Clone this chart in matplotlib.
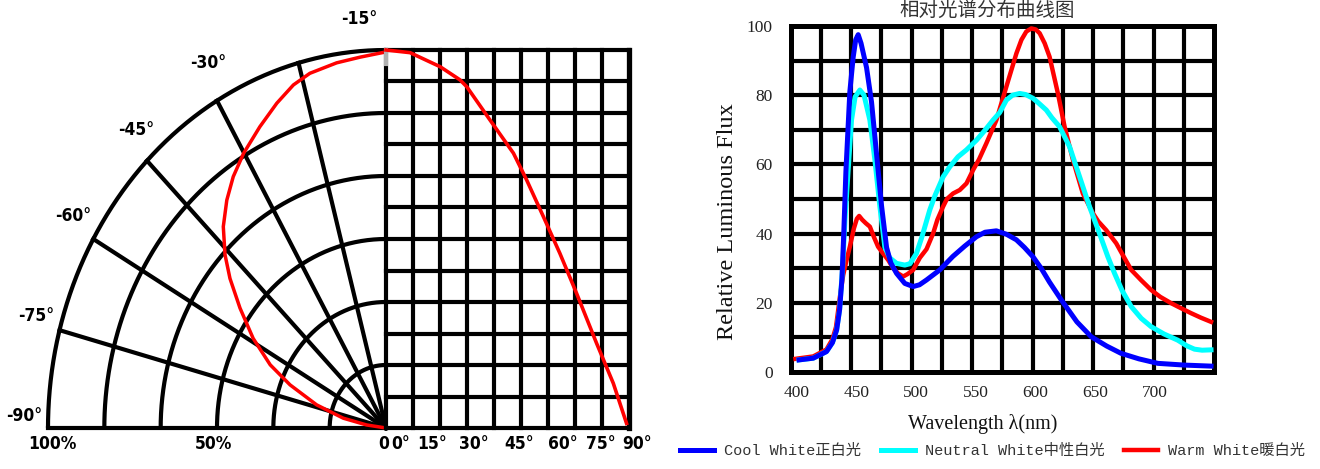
import numpy as np
import matplotlib
matplotlib.use('Agg')
import matplotlib.pyplot as plt
from matplotlib import font_manager as fm
from matplotlib.font_manager import FontProperties

# ---------------- data ----------------
# left: polar light distribution (angle from axis in degrees, relative intensity)
polar_angles = [0, 4.5, 8.6, 13.5, 16.8, 20.6, 25.1, 30.1, 34.2, 38, 42.1, 46.1, 49.4,
                53.7, 58.9, 64, 68.1, 73.4, 78.4, 82, 90]
polar_intensity = [0.995, 0.984, 0.977, 0.965, 0.948, 0.918, 0.880, 0.840, 0.804, 0.765,
                   0.718, 0.661, 0.608, 0.536, 0.459, 0.381, 0.306, 0.214, 0.129, 0.058, 0.0]

# left: rectangular light distribution
rect_angles = [0, 8.9, 20, 27.4, 29.9, 38.5, 47.2, 52.1, 58.3, 64.4, 70.6, 78, 84.2, 89.1]
rect_intensity = [1.0, 0.993, 0.956, 0.921, 0.903, 0.815, 0.727, 0.656, 0.559,
                  0.462, 0.356, 0.224, 0.118, 0.012]

polar_angle_labels = ['-15°', '-30°', '-45°', '-60°', '-75°', '-90°']
polar_radius_labels = ['100%', '50%', '0']
rect_angle_labels = ['0°', '15°', '30°', '45°', '60°', '75°', '90°']

# right: relative spectral distribution
cool_wl = [402, 413.9, 425, 430, 433.5, 436, 438, 439.5, 441.3, 444.6, 447.4, 449.5, 451.6,
           454, 458.6, 462.8, 467, 471.2, 475.4, 479, 483.8, 490.7, 497.7, 503, 508.9,
           520, 531, 541, 550.8, 558, 567.5, 576, 584.3, 591, 598.2, 605, 612, 622, 635,
           647, 660, 672, 687, 702.9, 725, 747.5]
cool_val = [3.5, 4.0, 5.9, 8.5, 12.1, 18, 27, 40, 58, 81, 91, 96, 97.5,
            95, 88, 78, 63, 48, 36, 31.5, 28.5, 25.6, 24.7, 25.2, 26.6,
            29.5, 33.4, 36.4, 39.1, 40.4, 40.8, 39.8, 38.2, 36, 33.3, 30, 26, 20.8, 14.5,
            10.2, 7.5, 5.4, 3.8, 2.5, 2.0, 1.7]

neutral_wl = [402, 413.9, 425, 430, 433.5, 436, 438.5, 440.5, 443.2, 446, 449, 453,
              456.5, 461.4, 465.6, 469.8, 474, 478, 483.8, 490.7, 495, 500.5, 505, 511.6,
              516, 522.8, 528.4, 535.3, 542.4, 550.8, 557, 564.7, 570.3, 575.9, 581, 587,
              592, 598.2, 603, 609.4, 614, 620.5, 628.9, 637.3, 645.6, 654, 661, 666.6,
              673, 680.6, 689, 697.3, 708, 719.6, 727, 733.6, 740, 747.5]
neutral_val = [3.5, 4.0, 5.9, 8.5, 12.1, 18, 30, 43.9, 58.4, 72.8, 79.5, 81.5,
               80, 72.8, 61.3, 47.8, 36, 33, 31.4, 30.9, 31.3, 34.3, 39, 46.8,
               51, 56.4, 59.3, 62.2, 64.2, 67, 69.5, 72.8, 75, 78.6, 80, 80.5,
               80.2, 79.1, 77.7, 75.7, 73.5, 70.9, 65.1, 56.4, 47.8, 40, 33.3, 28.5,
               23.5, 18.9, 15.5, 13.1, 11, 9.2, 7.6, 6.6, 6.3, 6.4]

warm_wl = [399, 413.9, 425, 430, 433, 436.3, 439, 441.9, 444.6, 448, 450.5, 452.4, 455,
           458, 461.4, 464.8, 468.3, 472, 476.7, 481, 485, 489.3, 493, 497.7, 503.3,
           508.9, 514.4, 518, 522.8, 526, 531.2, 536.8, 542.4, 548, 553, 559.1, 567.5,
           575.9, 584.3, 588.5, 592.6, 596.8, 600.5, 603.8, 608, 612.1, 619.1, 624.7,
           631.7, 640, 648.4, 653, 659.6, 668, 674, 680.6, 689, 697.3, 705, 714, 722,
           730.8, 739, 747.5]
warm_val = [3.8, 4.5, 6.5, 9.5, 13, 21.8, 28, 32.4, 36.2, 41.5, 44.3, 45.1, 44,
            43, 42, 39, 36.2, 34.5, 32.4, 30, 28.5, 27.6, 28.3, 29.5, 33,
            35.5, 40, 44, 47.8, 50, 51.6, 52.6, 54.5, 58.4, 61.5, 66.1, 72.8,
            82.5, 92.1, 96, 98.4, 99.3, 99, 97.9, 95, 91.1, 80.5, 70.9,
            61.3, 51.6, 45.9, 43.5, 41, 37.2, 33.5, 29.5, 26.5, 23.7, 21.7, 19.9, 18.5,
            17, 15.7, 14.5]

series_labels = ['Cool White正白光', 'Neutral White中性白光', 'Warm White暖白光']
spec_title = '相对光谱分布曲线图'
x_ticks = [400, 450, 500, 550, 600, 650, 700]
y_ticks = [0, 20, 40, 60, 80, 100]

# ---------------- figure ----------------
W, H = 1320, 469
fig = plt.figure(figsize=(W / 100, H / 100), dpi=100)

def px_axes(x0, y0, x1, y1):
    return fig.add_axes([x0 / W, 1 - y1 / H, (x1 - x0) / W, (y1 - y0) / H])

# pick a narrow bold face for the light-distribution labels if one is installed
ttf = fm.fontManager.ttflist
names = {f.name for f in ttf}
lab_font = dict(fontfamily='Liberation Sans', fontweight='bold', fontsize=12.5)
if 'Liberation Sans Narrow' in names:
    lab_font = dict(fontfamily='Liberation Sans Narrow', fontweight='bold', fontsize=14)
elif any(f.name == 'DejaVu Sans' and f.stretch == 'condensed' and f.weight in ('bold', 700)
         for f in ttf):
    lab_font = dict(fontfamily='DejaVu Sans', fontweight='bold', fontstretch='condensed',
                    fontsize=12.5)
serif = 'Liberation Serif'

GRID_LW = 3.0

# ---- polar half ----
ax_p = px_axes(48, 50, 386, 428)
ax_p.set_xlim(-1, 0)
ax_p.set_ylim(0, 1)
ax_p.axis('off')
t = np.radians(np.linspace(0, 90, 300))
for k in range(1, 7):
    r = k / 6
    ax_p.plot(-r * np.sin(t), r * np.cos(t), color='black', lw=GRID_LW, clip_on=False,
              solid_capstyle='butt', zorder=2)
for a in [15, 30, 45, 60, 75]:
    ar = np.radians(a)
    ax_p.plot([0, -np.sin(ar)], [0, np.cos(ar)], color='black', lw=GRID_LW,
              clip_on=False, zorder=2)
ax_p.plot([-1, 0], [0, 0], color='black', lw=GRID_LW, clip_on=False, zorder=2)
pa = np.radians(polar_angles)
pr = np.array(polar_intensity)
ax_p.plot(-pr * np.sin(pa), pr * np.cos(pa), color='#ff0000', lw=2.5, clip_on=False,
          zorder=3, solid_joinstyle='round')

# ---- rectangular half ----
ax_r = px_axes(386, 50, 629, 428)
ax_r.set_xlim(0, 90)
ax_r.set_ylim(0, 1)
ax_r.axis('off')
for xv in np.arange(0, 91, 10):
    ax_r.plot([xv, xv], [0, 1], color='black', lw=GRID_LW + (0.8 if xv == 90 else 0),
              clip_on=False, zorder=2, solid_capstyle='projecting')
for k in range(13):
    ax_r.plot([0, 90], [k / 12, k / 12], color='black', lw=GRID_LW, clip_on=False, zorder=2,
              solid_capstyle='projecting')
ax_r.plot([0, 0], [1, 1 - 14 / 378], color='#b0b0b0', lw=GRID_LW, clip_on=False, zorder=2.5)
ax_r.plot(rect_angles, rect_intensity, color='#ff0000', lw=2.6, clip_on=False, zorder=3,
          solid_joinstyle='round')

# ---- left labels ----
lab_kw = dict(ha='center', va='center', color='black', **lab_font)
for txt, (x, y) in zip(polar_angle_labels,
                       [(359, 19), (208, 63), (136, 130), (73, 216), (36, 316), (24, 416)]):
    fig.text(x / W, 1 - y / H, txt, **lab_kw)
for txt, x in zip(polar_radius_labels, [52, 214, 384]):
    fig.text(x / W, 1 - 444 / H, txt, **lab_kw)
for txt, x in zip(rect_angle_labels, [401, 432, 474, 519, 563, 601, 637]):
    fig.text(x / W, 1 - 444 / H, txt, **lab_kw)

# ---- spectrum ----
ax = px_axes(790.7, 26, 1214, 372)
ax.set_xlim(395, 750)
ax.set_ylim(0, 100)
for xv in np.linspace(395, 750, 15)[1:-1]:
    ax.axvline(xv, color='black', lw=GRID_LW, zorder=1)
for yv in range(10, 100, 10):
    ax.axhline(yv, color='black', lw=GRID_LW, zorder=1)
for s in ax.spines.values():
    s.set_linewidth(3.6)
    s.set_color('black')
    s.set_zorder(1.5)

l_warm, = ax.plot(warm_wl, warm_val, color='#ff0000', lw=3.2, zorder=3,
                  label=series_labels[2], solid_joinstyle='round')
l_neu, = ax.plot(neutral_wl, neutral_val, color='#00ffff', lw=3.6, zorder=4,
                 label=series_labels[1], solid_joinstyle='round')
l_cool, = ax.plot(cool_wl, cool_val, color='#0000ff', lw=3.6, zorder=5,
                  label=series_labels[0], solid_joinstyle='round')

ax.set_xticks(x_ticks)
ax.set_yticks(y_ticks)
ax.tick_params(length=0, labelsize=12.5, labelcolor='#222222')
ax.tick_params(axis='y', pad=13)
ax.tick_params(axis='x', pad=9)
for lbl in ax.get_xticklabels() + ax.get_yticklabels():
    lbl.set_fontfamily(serif)

ax.set_ylabel('Relative Luminous Flux', fontfamily=serif, fontsize=17.5, color='#111111')
ax.yaxis.set_label_coords(-0.150, 0.434)
ax.yaxis.label.set_verticalalignment('center')
ax.set_xlabel('Wavelength λ(nm)', fontfamily=serif, fontsize=14.5, color='#111111')
ax.xaxis.set_label_coords(0.453, -0.149)
ax.xaxis.label.set_verticalalignment('center')

ax.text(0.465, 1.046, spec_title, transform=ax.transAxes, ha='center', va='center',
        fontfamily='Noto Sans CJK SC', fontsize=14, color='#333333')

leg = ax.legend(handles=[l_cool, l_neu, l_warm], loc='center left',
                bbox_to_anchor=(680 / W, 1 - 451 / H), bbox_transform=fig.transFigure,
                ncol=3, frameon=False, borderpad=0, borderaxespad=0,
                handlelength=2.22, handletextpad=0.65, columnspacing=1.3,
                prop=FontProperties(family=['Liberation Mono', 'Noto Sans CJK SC'], size=11))
for txt in leg.get_texts():
    txt.set_color('#333333')

fig.savefig('out.png', dpi=100)
